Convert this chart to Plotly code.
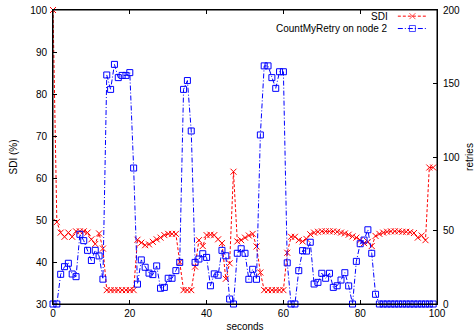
import plotly.graph_objects as go

# ---- data ----
seconds = list(range(100))

sdi = [100, 49.5, 47.0, 46.0, 47.0, 46.0, 47.3, 47.3, 47.3, 47.0,
       45.4, 44.3, 46.8, 43.2, 33.3, 33.3, 33.3, 33.3, 33.3, 33.3,
       33.3, 33.3, 45.3, 44.6, 44.0, 44.2, 44.8, 45.4, 45.8, 46.4,
       46.7, 46.7, 46.7, 40.0, 33.3, 33.3, 33.3, 38.9, 45.2, 43.8,
       46.4, 46.5, 46.4, 45.4, 44.5, 36.0, 39.7, 61.5, 44.9, 45.2,
       45.8, 46.3, 46.7, 43.7, 37.5, 33.3, 33.3, 33.3, 33.3, 33.3,
       33.3, 42.2, 46.0, 46.0, 45.2, 44.9, 45.5, 46.6, 47.0, 47.2,
       47.3, 47.3, 47.3, 47.3, 47.2, 47.0, 46.8, 46.5, 46.1, 45.8,
       45.2, 44.5, 44.8, 43.8, 46.2, 46.7, 47.0, 47.2, 47.3, 47.3,
       47.3, 47.2, 47.2, 47.1, 46.9, 45.8, 46.3, 45.2, 62.5, 62.5]

retries = [0, 0, 20.2, 25.4, 27.7, 20.4, 18.6, 47.4, 43.1, 36.5,
           29.6, 36.5, 32.7, 16.9, 155.8, 146, 163, 154, 155.5, 155.5,
           157.4, 92.5, 13.5, 30, 25, 21, 20, 25.9, 10.7, 11.3,
           17.5, 17.5, 22.7, 28.3, 146, 152, 117.7, 28.3, 30.6, 34.2,
           31.7, 12.4, 20.5, 19.6, 36.5, 32.8, 3.4, 0, 34.5, 37.6,
           34.5, 16.8, 23.6, 16.8, 115, 162, 162, 154, 146.7, 158,
           158, 28, 0, 0, 22.7, 36.3, 36, 42, 13.6, 14.7,
           20.9, 17.5, 20.9, 11.3, 12.4, 16.3, 21.3, 12.3, 0, 29,
           41, 43.5, 50.5, 34.5, 6.6, 0, 0, 0, 0, 0,
           0, 0, 0, 0, 0, 0, 0, 0, 0, 0]

x_ticks = [0, 20, 40, 60, 80, 100]
sdi_ticks = [30, 40, 50, 60, 70, 80, 90, 100]
retry_ticks = [0, 50, 100, 150, 200]

series_names = ["SDI", "CountMyRetry on node 2"]

# ---- styles ----
RED = "#ff0000"
BLUE = "#0000ff"
FONT = "Liberation Sans, Arial, Helvetica, sans-serif"
red_line = dict(color=RED, width=1, dash="3px,2px")
blue_line = dict(color=BLUE, width=1, dash="5px,2px,1px,2px")
red_marker = dict(symbol="x-thin-open", size=6, color=RED, line=dict(color=RED, width=1))
blue_marker = dict(symbol="square-open", size=6, color=BLUE, line=dict(color=BLUE, width=1))

fig = go.Figure()
fig.add_trace(go.Scatter(x=seconds, y=sdi, mode="lines+markers", name=series_names[0],
                         line=red_line, marker=red_marker, cliponaxis=False, showlegend=False))
fig.add_trace(go.Scatter(x=seconds, y=retries, yaxis="y2", mode="lines+markers", name=series_names[1],
                         line=blue_line, marker=blue_marker, cliponaxis=False, showlegend=False))

# ---- gnuplot-style key: text right-aligned, sample on its right ----
key_rows = [0.979, 0.937]          # fraction of plot height
key_x = [0.898, 0.936, 0.974]      # sample start / marker / end (fraction of plot width)
for name, ry, ln, mk in [(series_names[0], key_rows[0], red_line, red_marker),
                         (series_names[1], key_rows[1], blue_line, blue_marker)]:
    m = dict(mk)
    m["size"] = [0, mk["size"], 0]
    fig.add_trace(go.Scatter(x=key_x, y=[ry] * 3, xaxis="x3", yaxis="y3", mode="lines+markers",
                             line=ln, marker=m, showlegend=False, hoverinfo="skip", cliponaxis=False))
    fig.add_annotation(x=key_x[0] - 0.02, y=ry, xref="x3", yref="y3", text=name, showarrow=False,
                       xanchor="right", yanchor="middle", font=dict(size=10, color="#000000", family=FONT))

axis_common = dict(showline=True, linecolor="black", linewidth=1, ticks="inside", ticklen=4,
                   tickcolor="black", showgrid=False, zeroline=False, automargin=False,
                   ticklabeloverflow="allow",
                   tickfont=dict(size=10, color="#000000", family=FONT))

fig.update_layout(
    width=475, height=334,
    margin=dict(l=53, r=38, t=10, b=30),
    paper_bgcolor="white", plot_bgcolor="white",
    font=dict(family=FONT, size=10, color="#000000"),
    hovermode=False,
    xaxis=dict(range=[0, 100], tickvals=x_ticks, mirror="ticks",
               title=dict(text="seconds", standoff=4, font=dict(size=10)), **axis_common),
    yaxis=dict(range=[30, 100], tickvals=sdi_ticks, mirror=True, ticklabelstandoff=3,
               title=dict(text="SDI (%)", standoff=10, font=dict(size=10)), **axis_common),
    yaxis2=dict(range=[0, 200], tickvals=retry_ticks, overlaying="y", side="right", ticklabelstandoff=3,
                title=dict(text="retries", standoff=8, font=dict(size=10)), **axis_common),
    xaxis3=dict(range=[0, 1], overlaying="x", visible=False, fixedrange=True),
    yaxis3=dict(range=[0, 1], overlaying="y", visible=False, fixedrange=True),
    showlegend=False,
    shapes=[dict(type="rect", xref="paper", yref="paper", x0=0, x1=1, y0=0, y1=1,
                 line=dict(color="black", width=1), fillcolor="rgba(0,0,0,0)", layer="above")],
)

# remove the browser's default 8px page margin so the figure fills the window exactly
fig.write_html("out.html", config={"displayModeBar": False, "staticPlot": True},
               post_script="document.body.style.margin='0';document.body.style.overflow='hidden';")
